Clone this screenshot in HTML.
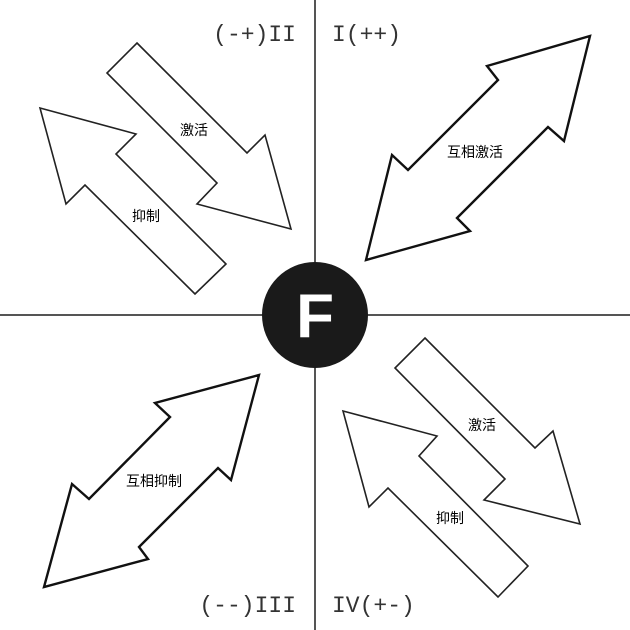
<!DOCTYPE html>
<html><head><meta charset="utf-8"><style>
html,body{margin:0;padding:0;background:#fff;}
svg{display:block;}
.q{font-family:"Liberation Mono",monospace;font-size:23px;fill:#333;}
.l{font-family:"Liberation Sans","Noto Sans CJK SC",sans-serif;font-size:14px;fill:#000;}
</style></head><body>
<svg width="630" height="630" viewBox="0 0 630 630" xmlns="http://www.w3.org/2000/svg">
<rect width="630" height="630" fill="#fff"/>
<line x1="0" y1="315" x2="630" y2="315" stroke="#555" stroke-width="2"/>
<line x1="315" y1="0" x2="315" y2="630" stroke="#555" stroke-width="2"/>
<g fill="#fff" stroke="#222" stroke-width="1.6" stroke-linejoin="miter">
<polygon points="137,43 247,153 265,135 291,229 197,204 217,183 107,73"/>
<polygon points="40,108 136,134 116,154 226,264 195,294 85,185 66,204"/>
<polygon points="425,338 535,448 553,431 580,524 484,500 505,479 395,368"/>
<polygon points="343,411 437,436 419,456 528,566 498,597 388,488 369,507"/>
</g>
<g fill="#fff" stroke="#111" stroke-width="2.4">
<polygon points="590,36 564,141 548,127 457,218 470,231 366,260 392,155 408,170 498,80 487,66"/>
<polygon points="259,375 231,480 218,468 139,547 148,559 44,587 72,484 89,499 170,417 155,403"/>
</g>
<circle cx="315" cy="315" r="53" fill="#1a1a1a"/>
<text x="315" y="337" text-anchor="middle" font-family="Liberation Sans,sans-serif" font-weight="bold" font-size="62" fill="#fff">F</text>
<text class="q" x="296" y="41" text-anchor="end">(-+)II</text>
<text class="q" x="332" y="41">I(++)</text>
<text class="q" x="296" y="612" text-anchor="end">(--)III</text>
<text class="q" x="332" y="612">IV(+-)</text>
<text class="l" x="194" y="135" text-anchor="middle">激活</text>
<text class="l" x="146" y="221" text-anchor="middle">抑制</text>
<text class="l" x="475" y="157" text-anchor="middle">互相激活</text>
<text class="l" x="154" y="486" text-anchor="middle">互相抑制</text>
<text class="l" x="482" y="430" text-anchor="middle">激活</text>
<text class="l" x="450" y="523" text-anchor="middle">抑制</text>
</svg>
</body></html>
